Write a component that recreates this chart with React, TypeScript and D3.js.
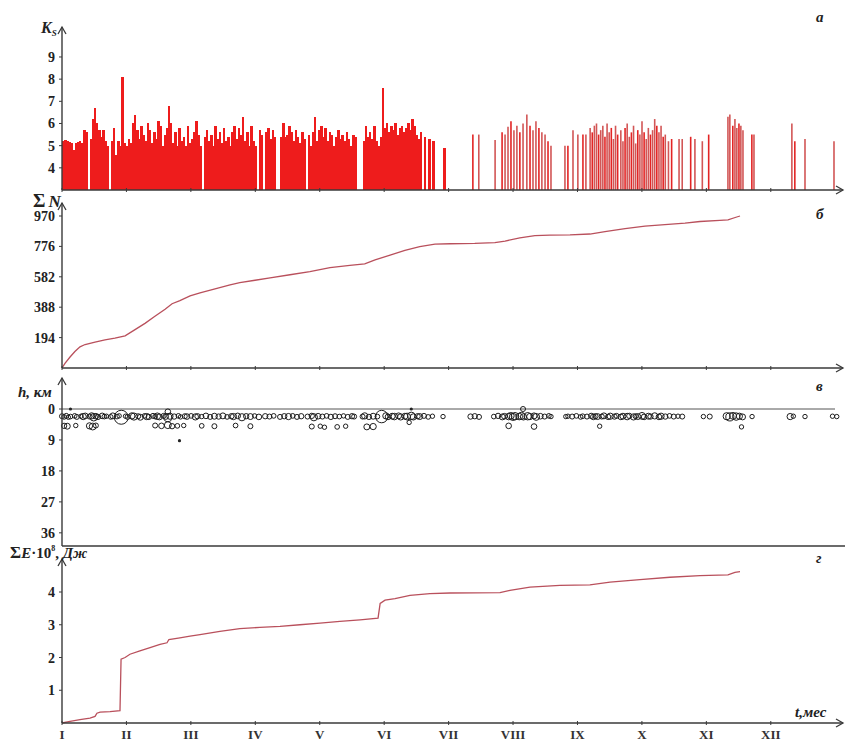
import React from 'react'
import * as d3 from 'd3'

const W = 845
const H = 741
const FONT = '"Liberation Serif", "Times New Roman", serif'

const monthLabels = ['I', 'II', 'III', 'IV', 'V', 'VI', 'VII', 'VIII', 'IX', 'X', 'XI', 'XII']
const ksTicks = [4, 5, 6, 7, 8, 9]
const nTicks = [194, 388, 582, 776, 970]
const hTicks = [0, 9, 18, 27, 36]
const eTicks = [1, 2, 3, 4]

// daily max Ks, day 0 .. 180 (0 = no event)
const ksDaily = [
  5.2, 5.25, 5.2, 5.15, 5.1, 4.8, 5.1, 5.15, 5.2, 5.1,
  5.7, 5.6, 0, 5.3, 6.2, 6.7, 6.0, 5.7, 5.4, 5.7,
  5.2, 5.0, 0, 5.2, 5.8, 4.6, 5.2, 5.0, 8.1, 5.1,
  5.0, 5.3, 5.1, 6.0, 6.4, 5.7, 5.3, 5.9, 5.5, 5.2,
  6.0, 5.7, 5.1, 5.6, 5.3, 6.1, 5.9, 5.0, 5.5, 5.8,
  6.8, 6.0, 5.1, 5.6, 5.0, 5.8, 5.2, 5.4, 5.0, 5.9,
  5.1, 5.3, 5.6, 6.1, 5.5, 5.0, 0, 5.4, 5.7, 5.2,
  5.5, 5.0, 5.9, 5.3, 5.6, 5.1, 5.8, 5.2, 5.4, 5.0,
  5.6, 5.9, 5.3, 5.8, 5.5, 6.3, 5.2, 5.6, 5.0, 5.9,
  5.2, 5.0, 0, 5.7, 5.5, 0, 5.6, 5.8, 5.3, 5.7,
  5.4, 0, 0, 5.4, 6.0, 5.4, 5.5, 5.9, 5.6, 5.2,
  5.7, 5.4, 5.1, 5.6, 5.3, 0, 5.5, 5.0, 5.6, 6.3,
  5.2, 5.7, 5.9, 5.4, 5.8, 5.2, 5.6, 5.5, 5.0, 5.4,
  5.7, 5.3, 5.5, 5.2, 5.6, 5.3, 5.0, 5.5, 5.4, 0,
  0, 0, 5.2, 5.9, 5.4, 5.6, 5.3, 5.9, 5.2, 5.0,
  5.4, 7.6, 5.8, 6.0, 5.6, 5.9, 5.7, 6.0, 5.5, 5.8,
  5.9, 5.6, 5.8, 6.0, 5.7, 6.2, 5.9, 5.5, 5.3, 5.6,
  0, 5.4, 0, 5.3, 0, 5.2, 0, 0, 0, 0, 4.9,
]

// later events [day, Ks]
const ksLate = [
  [194.1, 5.5], [196.9, 5.5], [204.6, 5.25], [207.9, 5.6], [209.3, 5.5], [210.7, 5.85], [212.1, 6.1],
  [213.5, 5.7], [214.9, 5.9], [216.3, 5.6], [217.8, 6.0], [219.6, 6.4], [221.1, 5.9], [222.5, 5.7],
  [223.9, 6.1], [225.3, 5.8], [226.7, 5.6], [228.2, 5.5], [229.6, 5.2], [231, 5.0],
  [237.6, 5.0], [239, 5.0], [241.4, 5.7], [243.7, 5.5], [246.1, 5.5], [247.5, 5.5],
  [249.5, 5.8], [250.5, 5.6], [251.5, 5.9], [252.5, 6.0], [253.5, 5.5], [254.5, 5.7], [255.5, 5.9],
  [256.5, 5.4], [257.5, 6.0], [258.5, 5.6], [259.5, 5.8], [260.5, 5.3], [261.5, 5.9], [262.5, 5.5],
  [264, 5.7], [265, 5.2], [266, 5.8], [267, 6.0], [268, 5.4], [269, 5.6], [270, 5.9], [271, 5.1],
  [272, 5.7], [273, 5.5], [274, 6.1], [275, 5.6], [276, 5.3], [277, 5.8], [278, 5.5], [279, 5.7],
  [280, 6.2], [281, 5.9], [282, 5.6], [283, 5.9], [284, 5.4], [285, 5.5], [286.5, 5.2], [288, 5.3],
  [291.5, 5.3], [293, 5.3], [297, 5.4], [299, 5.3], [302.5, 5.2], [305.5, 5.5],
  [314.6, 6.3], [315.5, 6.4], [316.9, 5.9], [317.9, 6.2], [318.8, 5.8], [319.8, 6.0], [320.7, 5.9],
  [321.7, 5.7], [325.9, 5.5], [326.9, 5.5], [344.8, 6.0], [346.2, 5.2], [351, 5.3], [364.7, 5.2],
]

// cumulative number of events [day, N]
const cumN = [
  [0, 0], [1.4, 30], [3.8, 70], [6.1, 105], [8.5, 135], [10.9, 150], [15.6, 165], [20.3, 180],
  [25, 190], [29.8, 205], [34.5, 245], [39.2, 285], [43.9, 330], [48.7, 375], [52, 410], [55.7, 430],
  [60.5, 460], [65.2, 480], [72.3, 505], [79.4, 530], [84, 545], [91.2, 560], [98.3, 575],
  [107.7, 595], [117.1, 615], [126.6, 640], [136, 655], [143, 665], [147.9, 690], [155, 720],
  [162, 750], [169, 775], [176.2, 790], [183.3, 793], [195, 795], [204.5, 800], [209.3, 810],
  [216.3, 830], [223.4, 845], [230.5, 848], [240, 850], [249.4, 855], [256.5, 870], [266, 890],
  [275.4, 905], [284.8, 915], [294.3, 925], [301.4, 935], [310.8, 942], [314.6, 945], [318.4, 962],
  [320.3, 970],
]

// cumulative energy, 10^8 J [day, E]
const cumE = [
  [0, 0], [3.8, 0.05], [8.5, 0.1], [13.2, 0.15], [15.6, 0.2], [16.5, 0.3], [18, 0.33], [22.7, 0.35],
  [27.4, 0.38], [27.9, 1.95], [29.8, 2.0], [32.1, 2.1], [36.8, 2.2], [41.6, 2.3], [46.3, 2.4],
  [49.6, 2.45], [50.5, 2.55], [55.7, 2.6], [60.5, 2.65], [65.2, 2.7], [74.6, 2.8], [84, 2.88],
  [93.5, 2.92], [103, 2.95], [112.4, 3.0], [121.9, 3.05], [131.3, 3.1], [140.8, 3.15], [149.3, 3.2],
  [150.3, 3.65], [152.6, 3.75], [157.3, 3.8], [164.4, 3.9], [173.8, 3.95], [183.3, 3.97],
  [206.9, 3.98], [211.6, 4.05], [221.1, 4.15], [235.2, 4.2], [249.4, 4.22], [258.9, 4.3],
  [273, 4.38], [287.2, 4.45], [301.4, 4.5], [314.6, 4.52], [317.9, 4.6], [320.3, 4.62],
]

// hypocentres [day, depth km, Ks]
const quakes = [
  [0, 2.1, 5.2], [1, 2.3, 5.1], [2, 2.0, 5.2], [3, 2.4, 5.0], [4, 2.2, 5.1], [6, 2.0, 5.1], [7, 2.3, 5.2],
  [9, 2.1, 5.0], [10, 2.2, 5.6], [11, 2.0, 5.4], [4, 0, 4.6], [1, 4.9, 5.3], [2.5, 5.0, 5.5], [6.5, 4.8, 5.0],
  [13, 2.2, 5.2], [14, 2.0, 5.6], [15, 2.4, 6.0], [16, 2.1, 5.4], [17, 2.3, 5.3], [19, 2.0, 5.4],
  [20, 2.2, 5.1], [21, 2.1, 5.0], [23, 2.3, 5.1], [24, 2.0, 5.5], [13, 4.9, 5.6], [14.5, 5.1, 5.8],
  [16, 4.8, 5.2], [26, 2.2, 5.1], [27, 2.0, 5.0], [28, 2.4, 8.1], [30, 2.1, 5.0], [31, 2.3, 5.2],
  [33, 2.0, 5.6], [34, 2.2, 5.9], [36, 2.1, 5.2], [37, 2.4, 5.5], [39, 2.0, 5.1], [40, 2.2, 5.6],
  [41, 2.3, 5.3], [43, 2.0, 5.2], [44, 2.2, 5.1], [45, 2.1, 5.7], [46, 2.3, 5.5], [48, 2.0, 5.2],
  [49, 2.2, 5.4], [50, 2.5, 6.2], [51, 2.1, 5.6], [44, 4.8, 5.2], [47, 4.9, 5.4], [50, 4.7, 5.8],
  [52, 5.0, 5.3], [54.5, 4.9, 5.1], [57.5, 4.8, 5.0], [55.5, 9.2, 4.6], [50, 0.8, 5.4],
  [53, 2.2, 5.3], [55, 2.0, 5.1], [56, 2.3, 5.0], [58, 2.1, 5.2], [59, 2.2, 5.4], [61, 2.0, 5.1],
  [63, 2.3, 5.6], [64, 2.1, 5.3], [66, 2.2, 5.0], [68, 2.0, 5.4], [70, 2.3, 5.2], [72, 2.1, 5.5],
  [74, 2.2, 5.3], [76, 2.0, 5.5], [78, 2.3, 5.1], [80, 2.1, 5.3], [81, 2.2, 5.6], [83, 2.0, 5.4],
  [85, 2.4, 5.9], [87, 2.1, 5.3], [89, 2.2, 5.5], [91, 2.0, 5.0], [93, 2.3, 5.4], [96, 2.1, 5.3],
  [98, 2.2, 5.2], [100, 2.0, 5.1], [103, 2.3, 5.2], [105, 2.1, 5.3], [107, 2.2, 5.6], [109, 2.0, 5.1],
  [111, 2.3, 5.2], [113, 2.1, 5.3], [116, 2.2, 5.2], [118, 2.0, 5.3], [119, 2.4, 5.9], [121, 2.1, 5.4],
  [123, 2.2, 5.2], [125, 2.0, 5.1], [127, 2.3, 5.3], [129, 2.1, 5.2], [131, 2.2, 5.1], [133, 2.0, 5.0],
  [135, 2.3, 5.2], [137, 2.1, 5.3], [138, 2.2, 5.2], [66, 4.9, 5.1], [72, 5.0, 5.2], [82, 4.8, 5.1],
  [89, 5.0, 5.2], [118, 5.1, 5.2], [122, 5.0, 5.0], [124, 5.3, 5.0], [130, 5.2, 5.1], [134, 5.0, 4.9],
  [144, 5.2, 5.5], [147, 5.1, 5.6],
  [142, 2.2, 5.2], [143, 2.0, 5.6], [145, 2.3, 5.3], [147, 2.1, 5.5], [149, 2.2, 5.1], [151, 2.2, 7.6],
  [153, 2.0, 5.6], [154, 2.3, 5.4], [156, 2.1, 5.5], [157, 2.2, 5.7], [159, 2.0, 5.5], [160, 2.3, 5.6],
  [162, 2.1, 5.5], [163, 2.2, 5.8], [165, 2.0, 6.0], [166, 2.3, 5.6], [168, 2.1, 5.3], [169, 2.2, 5.5],
  [171, 2.0, 5.2], [173, 2.3, 5.1], [175, 2.1, 5.0], [180, 2.2, 4.8], [165, 0, 4.6], [164, 3.9, 4.8],
  [193, 2.2, 5.3], [195, 2.1, 5.3], [197, 2.3, 5.2],
  [204, 2.2, 5.1], [206, 2.0, 5.3], [208, 2.3, 5.5], [209, 2.1, 5.4], [211, 2.2, 5.7], [212, 2.0, 5.8],
  [213, 2.3, 5.9], [214, 2.1, 6.0], [216, 2.2, 5.7], [217, 2.0, 5.9], [218, 2.3, 5.6], [220, 2.1, 6.0],
  [221, 2.2, 5.6], [223, 2.0, 5.5], [224, 2.3, 5.8], [226, 2.1, 5.4], [228, 2.2, 5.2], [230, 2.0, 5.1],
  [231, 2.2, 5.0], [217.8, 0, 5.2], [211, 4.9, 5.4], [223, 5.1, 5.4],
  [238, 2.2, 5.0], [239, 2.1, 5.0], [241, 2.2, 5.2], [243, 2.0, 5.1], [245, 2.3, 5.1], [246, 2.1, 5.1],
  [248, 2.2, 5.2], [250, 2.0, 5.3], [251, 2.3, 5.4], [252, 2.1, 5.3], [253, 2.2, 5.5], [254, 5.0, 4.9],
  [255, 2.2, 5.2], [256, 2.0, 5.5], [258, 2.3, 5.3], [259, 2.1, 5.6], [261, 2.2, 5.3], [262, 2.0, 5.2],
  [264, 2.3, 5.4], [265, 2.1, 5.5], [267, 2.2, 5.7], [268, 2.0, 5.3], [270, 2.3, 5.6], [271, 2.1, 5.2],
  [272, 2.2, 5.5], [274, 2.0, 5.8], [275, 2.3, 5.4], [277, 2.1, 5.5], [278, 2.2, 5.3], [280, 2.0, 5.6],
  [282, 2.3, 5.4], [283, 2.1, 5.6], [285, 2.2, 5.3], [287, 2.0, 5.1], [289, 2.2, 5.2], [291, 2.1, 5.0],
  [293, 2.2, 5.2], [303, 2.2, 5.0], [306, 2.2, 5.2],
  [314, 2.1, 5.9], [315.5, 2.3, 6.2], [317, 2.0, 5.8], [318.5, 2.2, 6.0], [320, 2.1, 5.6], [321.5, 2.3, 5.5],
  [321, 5.2, 5.0], [326, 2.2, 5.0], [344, 2.2, 5.6], [345.5, 2.1, 5.0], [351, 2.2, 4.9],
  [364, 2.1, 4.8], [366, 2.2, 4.7],
]

const DAYS_PER_MONTH = 30.44

const x = d3.scaleLinear().domain([0, 369.9]).range([62, 845])
const ksY = d3.scaleLinear().domain([3, 10]).range([190, 34.8])
const nY = d3.scaleLinear().domain([0, 970]).range([368, 216])
const hY = d3.scaleLinear().domain([0, 40]).range([409, 546.6])
const eY = d3.scaleLinear().domain([0, 4]).range([723, 592])
const rScale = d3.scaleLinear().domain([5, 8.1]).range([2.2, 7]).clamp(true)

const axisColor = '#3a3a3a'

function YAxis({ scale, ticks, top, bottom }: { scale: any; ticks: number[]; top: number; bottom: number }) {
  return (
    <g>
      <line x1={62} x2={62} y1={top} y2={bottom} stroke={axisColor} strokeWidth={1.4} />
      <path d={`M58,${top + 7} L62,${top} L66,${top + 7}`} fill="none" stroke={axisColor} strokeWidth={1.3} />
      {ticks.map(t => (
        <g key={t}>
          <line x1={59} x2={62} y1={scale(t)} y2={scale(t)} stroke={axisColor} />
          <text x={55} y={scale(t) + 5} textAnchor="end" fontSize={14} fontWeight="bold" fontFamily={FONT} fill="#222">
            {t}
          </text>
        </g>
      ))}
    </g>
  )
}

function XAxis({ y, end, arrow }: { y: number; end: number; arrow: boolean }) {
  return (
    <g>
      <line x1={62} x2={end} y1={y} y2={y} stroke={axisColor} strokeWidth={1.4} />
      {arrow && <path d={`M${end - 7},${y - 4} L${end},${y} L${end - 7},${y + 4}`} fill="none" stroke={axisColor} strokeWidth={1.3} />}
      {monthLabels.map((m, i) => (
        <line key={m} x1={x(i * DAYS_PER_MONTH)} x2={x(i * DAYS_PER_MONTH)} y1={y - 2} y2={y + 2} stroke={axisColor} />
      ))}
    </g>
  )
}

export default function App() {
  const nLine = d3.line<number[]>().x(d => x(d[0])).y(d => nY(d[1]))
  const eLine = d3.line<number[]>().x(d => x(d[0])).y(d => eY(d[1]))

  const letter = (t: string, yy: number) => (
    <text x={816} y={yy} fontSize={15} fontWeight="bold" fontStyle="italic" fontFamily={FONT} fill="#222">{t}</text>
  )

  return (
    <svg width={W} height={H} style={{ position: 'absolute', left: 0, top: 0, background: '#fff' }}>
      {/* panel a: Ks */}
      <g>
        {ksDaily.map((k, i) =>
          k > 0 ? (
            <rect key={i} x={x(i)} width={x(i + 1) - x(i) + 0.4} y={ksY(k)} height={ksY(3) - ksY(k)} fill="#ee1c1c" shapeRendering="crispEdges" />
          ) : null
        )}
        {ksLate.map((d, i) => (
          <line key={i} x1={x(d[0])} x2={x(d[0])} y1={ksY(3)} y2={ksY(d[1])} stroke={i % 3 === 0 ? '#e32424' : '#d25656'} strokeWidth={1.6} />
        ))}
        <YAxis scale={ksY} ticks={ksTicks} top={27} bottom={190} />
        <XAxis y={190} end={843} arrow={true} />
        <text x={41} y={33} fontSize={16} fontWeight="bold" fontStyle="italic" fontFamily={FONT} fill="#222">
          K<tspan fontSize={9} dy={3}>S</tspan>
        </text>
        {letter('а', 22)}
      </g>

      {/* panel b: cumulative N */}
      <g>
        <path d={nLine(cumN) || ''} fill="none" stroke="#b9505c" strokeWidth={1.3} />
        <YAxis scale={nY} ticks={nTicks} top={203} bottom={368} />
        <XAxis y={368} end={843} arrow={true} />
        <text x={33} y={207} fontSize={19} fontWeight="bold" fontFamily={FONT} fill="#222">
          Σ<tspan fontSize={17} fontStyle="italic" dx={3}>N</tspan>
        </text>
        {letter('б', 219)}
      </g>

      {/* panel c: depth */}
      <g>
        <line x1={62} x2={835} y1={hY(0)} y2={hY(0)} stroke="#555" strokeWidth={1} />
        {quakes.map((q, i) =>
          q[2] < 4.7 ? (
            <circle key={i} cx={x(q[0])} cy={hY(q[1])} r={1.6} fill="#222" />
          ) : (
            <circle key={i} cx={x(q[0])} cy={hY(q[1])} r={rScale(q[2])} fill="none" stroke="#1e1e1e" strokeWidth={1} />
          )
        )}
        <YAxis scale={hY} ticks={hTicks} top={378} bottom={546} />
        <line x1={62} x2={845} y1={546} y2={546} stroke={axisColor} strokeWidth={1.4} />
        <text x={18} y={397} fontSize={15} fontWeight="bold" fontStyle="italic" fontFamily={FONT} fill="#222">h, км</text>
        {letter('в', 391)}
      </g>

      {/* panel d: cumulative energy */}
      <g>
        <path d={eLine(cumE) || ''} fill="none" stroke="#b9505c" strokeWidth={1.3} />
        <YAxis scale={eY} ticks={eTicks} top={559} bottom={723} />
        <XAxis y={723} end={843} arrow={true} />
        <text x={10} y={558} fontSize={17} fontWeight="bold" fontFamily={FONT} fill="#222">
          Σ<tspan fontSize={15} fontStyle="italic">E</tspan><tspan fontSize={15}>·10</tspan><tspan fontSize={8} dy={-7}>8</tspan>
          <tspan fontSize={15} dy={7}>, </tspan>
          <tspan fontSize={15} fontStyle="italic">Дж</tspan>
        </text>
        {letter('г', 563)}
        {monthLabels.map((m, i) => (
          <text key={m} x={x(i * DAYS_PER_MONTH)} y={739} textAnchor="middle" fontSize={13} fontWeight="bold" fontFamily={FONT} fill="#333">
            {m}
          </text>
        ))}
        <text x={795} y={717} fontSize={15} fontWeight="bold" fontStyle="italic" fontFamily={FONT} fill="#222">t,мес</text>
      </g>
    </svg>
  )
}
